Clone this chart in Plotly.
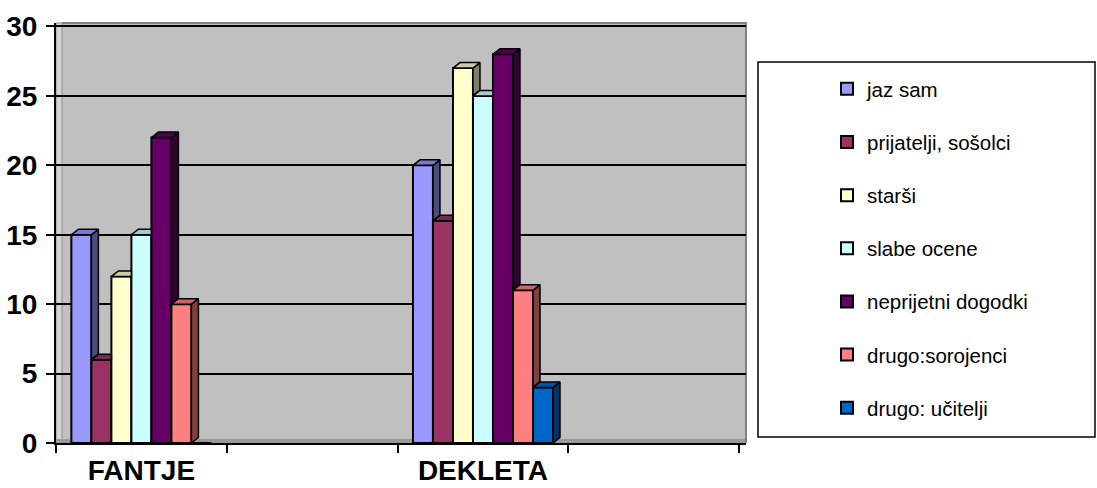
import plotly.graph_objects as go

categories = ["FANTJE", "", "DEKLETA", ""]
series_names = ["jaz sam", "prijatelji, sošolci", "starši", "slabe ocene",
                "neprijetni dogodki", "drugo:sorojenci", "drugo: učitelji"]
# values per series: [FANTJE, DEKLETA]
jaz_sam = [15, 20]
prijatelji = [6, 16]
starsi = [12, 27]
slabe_ocene = [15, 25]
neprijetni = [22, 28]
sorojenci = [10, 11]
ucitelji = [0, 4]
values = [jaz_sam, prijatelji, starsi, slabe_ocene, neprijetni, sorojenci, ucitelji]
data_cats = [0, 2]  # category indices that carry data
y_ticks = [0, 5, 10, 15, 20, 25, 30]

colors = ["#9999FF", "#993366", "#FFFFCC", "#CCFFFF", "#660066", "#FF8080", "#0066CC"]


def shade(hexc, f):
    h = hexc.lstrip("#")
    r, g, b = (int(h[i:i + 2], 16) for i in (0, 2, 4))
    return "rgb(%d,%d,%d)" % (r * f, g * f, b * f)


FONT = "Liberation Sans, Arial, sans-serif"

# geometry
W, H = 1097, 488
ml, mr, mt, mb = 56, 1097 - 746, 23, 45
pw = W - ml - mr
ph = H - mt - mb
xmax = 4.04
ymax = 30.25
pxx = pw / xmax
pxy = ph / ymax
dx = 7 / pxx
dy = 5.5 / pxy
gw = 0.82
n = len(series_names)
bw = gw / n

fig = go.Figure()

# front faces
for i, name in enumerate(series_names):
    fig.add_trace(go.Bar(
        x=[c + 0.5 for c in data_cats], y=values[i], name=name,
        width=bw, offset=-gw / 2 + i * bw,
        marker=dict(color=colors[i], line=dict(color="black", width=2)),
        legendgroup=name, showlegend=True, hoverinfo="skip"))

# 3D side and top faces
for i, name in enumerate(series_names):
    sx, sy, tx, ty = [], [], [], []
    for k, c in enumerate(data_cats):
        v = values[i][k]
        if v <= 0:
            continue
        left = c + 0.5 - gw / 2 + i * bw
        right = left + bw
        vn = values[i + 1][k] if i + 1 < n else 0
        # top face
        if vn > v:
            tx += [left, right, right, left + dx, left, None]
        else:
            tx += [left, right, right + dx, left + dx, left, None]
        ty += [v, v, v + dy, v + dy, v, None]
        # side face
        if v > vn:
            sx += [right, right + dx, right + dx, right, right, None]
            sy += [vn, vn + dy, v + dy, v, vn, None]
    fig.add_trace(go.Scatter(x=sx, y=sy, mode="lines", fill="toself",
                             fillcolor=shade(colors[i], 0.5),
                             line=dict(color="black", width=1.5),
                             showlegend=False, hoverinfo="skip"))
    fig.add_trace(go.Scatter(x=tx, y=ty, mode="lines", fill="toself",
                             fillcolor=shade(colors[i], 0.8),
                             line=dict(color="black", width=1.5),
                             showlegend=False, hoverinfo="skip"))

shapes = [
    # left side wall
    dict(type="rect", xref="paper", yref="paper", x0=0, x1=6 / pw, y0=0, y1=1,
         fillcolor="#D4D4D4", line=dict(color="#909090", width=1), layer="between"),
    # floor
    dict(type="rect", xref="paper", yref="paper", x0=0, x1=1, y0=0, y1=4 / ph,
         fillcolor="#9A9A9A", line=dict(width=0), layer="between"),
    # back wall border (top and right)
    dict(type="path", xref="paper", yref="paper",
         path="M %f,1 L 1,1 L 1,0" % (6 / pw),
         line=dict(color="#808080", width=2), layer="between"),
    # legend box
    dict(type="rect", xref="paper", yref="paper",
         x0=(758 - ml) / pw, x1=(1095 - ml) / pw,
         y0=(H - mb - 437) / ph, y1=(H - mb - 62) / ph,
         line=dict(color="black", width=1.5), fillcolor="rgba(0,0,0,0)"),
]

fig.update_layout(
    width=W, height=H,
    margin=dict(l=ml, r=mr, t=mt, b=mb, autoexpand=False),
    paper_bgcolor="white", plot_bgcolor="#C0C0C0",
    barmode="overlay",
    font=dict(family=FONT, color="black"),
    shapes=shapes,
    legend=dict(x=(827 - ml) / pw, xanchor="left",
                y=(H - mb - 69) / ph, yanchor="top",
                font=dict(size=20.5, family=FONT),
                tracegroupgap=23.5, bgcolor="rgba(0,0,0,0)", borderwidth=0),
    xaxis=dict(range=[0, xmax], tickvals=[c + 0.5 for c in range(len(categories))],
               ticktext=categories, ticks="", showgrid=False, zeroline=False,
               showline=True, linecolor="black", linewidth=2, automargin=False,
               tickfont=dict(size=28, family=FONT, weight="bold"),
               ticklabelstandoff=1,
               minor=dict(tickvals=list(range(len(categories) + 1)), ticks="outside",
                          ticklen=8, tickwidth=2, tickcolor="black", showgrid=False)),
    yaxis=dict(range=[0, ymax], tickvals=y_ticks, ticks="outside", ticklen=8,
               tickwidth=2, tickcolor="black", showline=True, linecolor="black",
               linewidth=2, showgrid=True, gridcolor="black", gridwidth=2,
               zeroline=False, ticklabelstandoff=3, automargin=False,
               tickfont=dict(size=28, family=FONT, weight="bold")),
)

fig.write_html("out.html")
